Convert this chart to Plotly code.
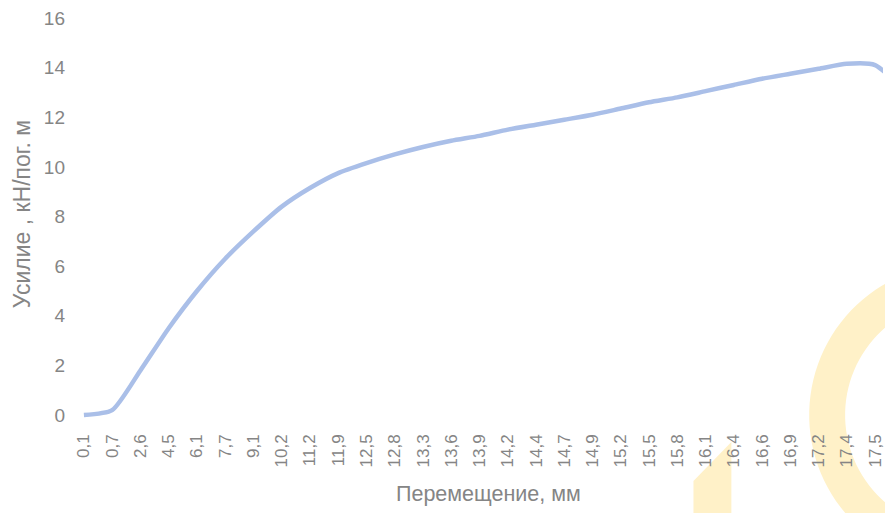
import numpy as np
import plotly.graph_objects as go

# Displacement categories (mm) and measured force (kN per running metre)
displacement = ["0,1", "0,7", "2,6", "4,5", "6,1", "7,7", "9,1", "10,2", "11,2", "11,9",
                "12,5", "12,8", "13,3", "13,6", "13,9", "14,2", "14,4", "14,7", "14,9", "15,2",
                "15,5", "15,8", "16,1", "16,4", "16,6", "16,9", "17,2", "17,4", "17,5", "17,6"]
force = [0.0, 0.2, 1.8, 3.5, 5.0, 6.3, 7.4, 8.4, 9.15, 9.75,
         10.15, 10.5, 10.8, 11.05, 11.25, 11.5, 11.7, 11.9, 12.1, 12.35,
         12.6, 12.8, 13.05, 13.3, 13.55, 13.75, 13.95, 14.15, 14.1, 13.1]
y_ticks = [0, 2, 4, 6, 8, 10, 12, 14, 16]

W, H = 885, 513
ML, MR, MT, MB = 76, 0, 8, 83
PW, PH = W - ML - MR, H - MT - MB

TEXT = "#858585"
FONT = "Liberation Sans, Arial, sans-serif"


def px(x):
    return (x - ML) / PW


def py(y):
    return (H - MB - y) / PH


def poly_path(points):
    return "M " + " L ".join(f"{px(x):.5f},{py(y):.5f}" for x, y in points) + " Z"


# decorative yellow background glyphs (page print behind the chart)
stem = [(695, 520), (695, 481), (733, 442), (733, 520)]
t = np.linspace(0, 2 * np.pi, 120)
cx, cy, ro, ri = 962, 415, 151, 115
outer = [(cx + ro * np.cos(a), cy + ro * np.sin(a)) for a in t]
inner = [(cx + ri * np.cos(a), cy + ri * np.sin(a)) for a in t[::-1]]
ring_path = poly_path(outer) + " " + poly_path(inner)

fig = go.Figure()
fig.add_trace(go.Scatter(
    x=displacement, y=force, mode="lines",
    line=dict(color="#aabfe8", width=4.5, shape="spline", smoothing=0.6),
    hoverinfo="x+y", showlegend=False,
))

fig.update_layout(
    width=W, height=H,
    margin=dict(l=ML, r=MR, t=MT, b=MB),
    paper_bgcolor="white", plot_bgcolor="rgba(0,0,0,0)",
    font=dict(family=FONT, color=TEXT),
    xaxis=dict(
        type="category", range=[-0.28, 28.28],
        showgrid=False, zeroline=False, showline=False, ticks="",
        tickangle=-90, tickfont=dict(size=17, color=TEXT),
    ),
    yaxis=dict(
        range=[-0.6, 16.4], tickvals=y_ticks,
        showgrid=False, zeroline=False, showline=False, ticks="",
        tickfont=dict(size=19, color=TEXT), ticklabelstandoff=10,
    ),
    shapes=[
        dict(type="path", xref="paper", yref="paper", path=poly_path(stem),
             fillcolor="#fff1c8", line=dict(width=0), layer="below"),
        dict(type="path", xref="paper", yref="paper", path=ring_path,
             fillcolor="#fff1c8", line=dict(width=0), layer="below"),
    ],
    annotations=[
        dict(text="Перемещение, мм", xref="paper", yref="paper",
             x=px(490), y=py(494), showarrow=False,
             font=dict(size=21.5, color=TEXT), xanchor="center", yanchor="middle"),
        dict(text="Усилие , кН/пог. м", xref="paper", yref="paper",
             x=px(22), y=py(214), showarrow=False, textangle=-90,
             font=dict(size=23, color=TEXT), xanchor="center", yanchor="middle"),
    ],
)

fig.write_html("out.html")
